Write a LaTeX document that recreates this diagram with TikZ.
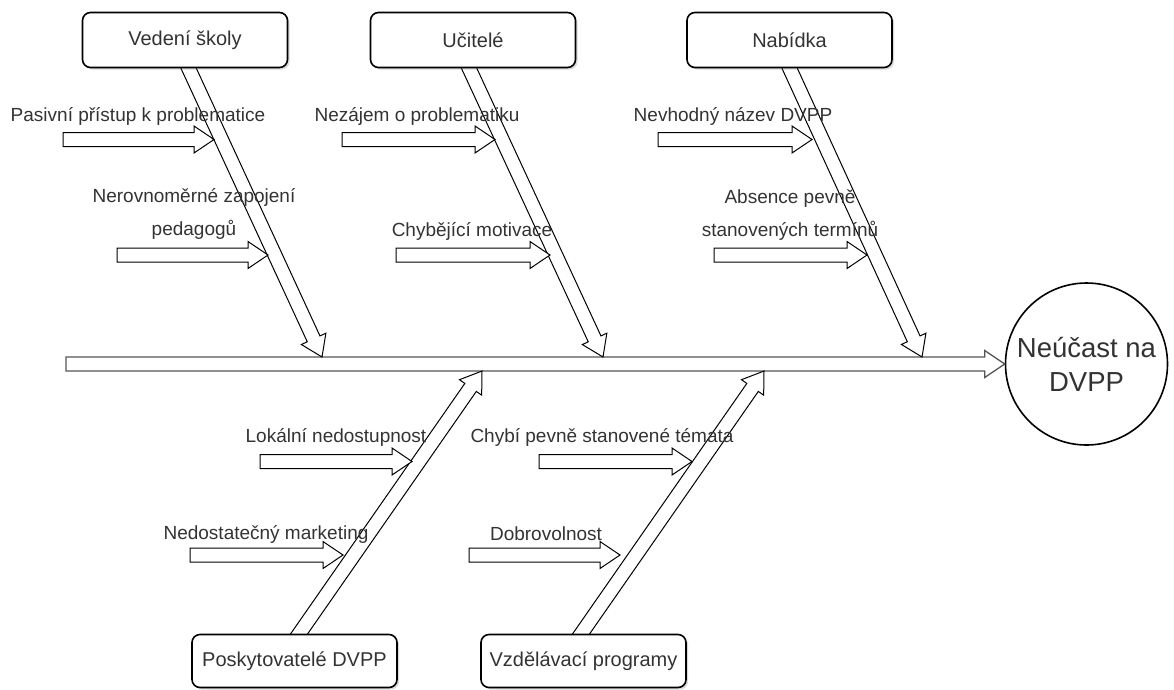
\documentclass[tikz,border=0pt]{standalone}
\usepackage{fontspec}
\setmainfont{Liberation Sans}
\usetikzlibrary{calc,shadows}
\definecolor{txt}{HTML}{333333}
\definecolor{spinec}{HTML}{555555}
\newcommand{\blockarr}[3][]{%
  \coordinate (ba-c) at ($(#3)!20pt!(#2)$);
  \draw[barrow,#1] ($(#2)!7pt!90:(#3)$) -- ($(ba-c)!7pt!90:(#3)$) -- ($(ba-c)!13.5pt!90:(#3)$) -- (#3)
    -- ($(ba-c)!13.5pt!-90:(#3)$) -- ($(ba-c)!7pt!-90:(#3)$) -- ($(#2)!7pt!-90:(#3)$) -- cycle;}
\tikzset{
  barrow/.style={draw=black, line width=1pt, fill=white, line join=miter},
  catbox/.style={draw=black, line width=1.6pt, rounded corners=8pt, fill=white,
    minimum width=205pt, minimum height=55pt, inner sep=0pt,
    font=\fontsize{20}{24}\selectfont, text=txt,
    drop shadow={shadow xshift=2pt, shadow yshift=-2pt, opacity=0.25, fill=black!60}},
  lbl/.style={font=\fontsize{19}{33}\selectfont, text=txt, align=center, inner sep=0pt},
  effect/.style={circle, draw=black, line width=1.6pt, fill=white, minimum size=162pt,
    inner sep=0pt, align=center, font=\fontsize{27.5}{34}\selectfont, text=txt}
}
\begin{document}
\begin{tikzpicture}[x=1pt,y=-1pt]
\useasboundingbox (0,0) rectangle (1174,689);
% effect
\node[effect] (eff) at (1086.5,364) {Neúčast na\\DVPP};
% spine
\coordinate (sp0) at (66,364);
\blockarr[draw=spinec, line width=1.3pt]{sp0}{eff.west}
% diagonal tips and starts
\coordinate (t1) at (322,357); \coordinate (s1) at (188.5,68);
\coordinate (t2) at (603,357); \coordinate (s2) at (469,68);
\coordinate (t3) at (922,357); \coordinate (s3) at (789.5,68);
\coordinate (b1) at (482,371); \coordinate (r1) at (299,634);
\coordinate (b2) at (764,371); \coordinate (r2) at (581,634);
\coordinate (s1x) at ($(t1)!1.12!(s1)$);
\coordinate (s2x) at ($(t2)!1.12!(s2)$);
\coordinate (s3x) at ($(t3)!1.12!(s3)$);
\coordinate (r1x) at ($(b1)!1.12!(r1)$);
\coordinate (r2x) at ($(b2)!1.12!(r2)$);
\blockarr{s1x}{t1}
\blockarr{s2x}{t2}
\blockarr{s3x}{t3}
\blockarr{r1x}{b1}
\blockarr{r2x}{b2}
% small cause arrows
\coordinate (a1s) at (63,139.5);  \coordinate (a1t) at (214,139.5);
\coordinate (a2s) at (117,255);   \coordinate (a2t) at (268,255);
\coordinate (a3s) at (342,139.5); \coordinate (a3t) at (495,139.5);
\coordinate (a4s) at (396,255);   \coordinate (a4t) at (550,255);
\coordinate (a5s) at (658,139.5); \coordinate (a5t) at (812,139.5);
\coordinate (a6s) at (714,255);   \coordinate (a6t) at (867,255);
\coordinate (a7s) at (260,461.5); \coordinate (a7t) at (412,461.5);
\coordinate (a8s) at (190,555);   \coordinate (a8t) at (343,555);
\coordinate (a9s) at (539,461.5); \coordinate (a9t) at (692,461.5);
\coordinate (a10s) at (469,555);  \coordinate (a10t) at (620,555);
\blockarr{a1s}{a1t}
\blockarr{a2s}{a2t}
\blockarr{a3s}{a3t}
\blockarr{a4s}{a4t}
\blockarr{a5s}{a5t}
\blockarr{a6s}{a6t}
\blockarr{a7s}{a7t}
\blockarr{a8s}{a8t}
\blockarr{a9s}{a9t}
\blockarr{a10s}{a10t}
% category boxes
\node[catbox] (vs) at (185,40) {Vedení školy};
\node[catbox] (uc) at (473,40) {Učitelé};
\node[catbox] (nb) at (789.5,40) {Nabídka};
\node[catbox, minimum height=53pt] (pd) at (294.5,661) {Poskytovatelé DVPP};
\node[catbox, minimum height=53pt] (vp) at (583.5,661) {Vzdělávací programy};
% cause labels
\node[lbl] (l1) at (138,116) {Pasivní přístup k problematice};
\node[lbl] (l2) at (194,214) {Nerovnoměrné zapojení\\pedagogů};
\node[lbl] (l3) at (417,116) {Nezájem o problematiku};
\node[lbl] (l4) at (472,231) {Chybějící motivace};
\node[lbl] (l5) at (733,116) {Nevhodný název DVPP};
\node[lbl] (l6) at (790,215) {Absence pevně\\stanovených termínů};
\node[lbl] (l7) at (336,437) {Lokální nedostupnost};
\node[lbl] (l8) at (602,437) {Chybí pevně stanovené témata};
\node[lbl] (l9) at (266,534) {Nedostatečný marketing};
\node[lbl] (l10) at (546,534) {Dobrovolnost};
\end{tikzpicture}
\end{document}
